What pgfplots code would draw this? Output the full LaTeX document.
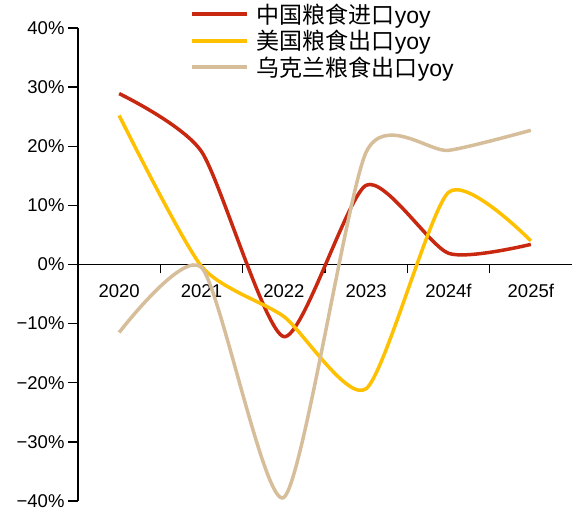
\documentclass[border=0pt]{standalone}
\usepackage{pgfplots}
\pgfplotsset{compat=1.18}
\usepackage{fontspec}
\setmainfont{Liberation Sans}
\newfontfamily\cjk{Noto Sans CJK SC}
\definecolor{cred}{HTML}{C8280F}
\definecolor{cyel}{HTML}{FFC000}
\definecolor{ctan}{HTML}{D6BE9A}
\begin{document}
\begin{tikzpicture}
\begin{axis}[
  scale only axis, width=494pt, height=473pt,
  xmin=-0.5, xmax=5.5, ymin=-40, ymax=40,
  axis x line=middle, axis y line=left,
  every inner x axis line/.append style={-},
  every outer y axis line/.append style={-},
  axis line style={line width=1.4pt, black},
  tick style={line width=1.4pt, black},
  tick align=outside,
  major tick length=10pt,
  minor tick length=9pt,
  xtick={0,1,2,3,4,5},
  xticklabels={2020,2021,2022,2023,2024f,2025f},
  minor xtick={0.5,1.5,2.5,3.5,4.5},
  every major x tick/.style={draw=none},
  xticklabel style={yshift=-6pt, text height=13pt},
  ytick={-40,-30,-20,-10,0,10,20,30,40},
  yticklabels={−40\%,−30\%,−20\%,−10\%,0\%,10\%,20\%,30\%,40\%},
  tick label style={font=\fontsize{18.5}{22}\selectfont},
  legend style={at={(axis description cs:0.22,1.06)}, anchor=north west, draw=none, fill=none,
    font=\fontsize{23}{25}\selectfont, row sep=1.5pt, column sep=6pt},
  legend cell align=left,
  legend image code/.code={\draw[#1, line width=4pt] (0pt,0pt) -- (55pt,0pt);},
]
\addplot[color=cred, line width=3.5pt, smooth, tension=0.4] coordinates {(0,28.9) (1,19.1) (2,-12.2) (3,13.4) (4,1.9) (5,3.4)};
\addlegendentry{{\cjk 中国粮食进口}yoy}
\addplot[color=cyel, line width=3.5pt, smooth, tension=0.4] coordinates {(0,25.2) (1,-0.3) (2,-8.8) (3,-21) (4,12.2) (5,4.0)};
\addlegendentry{{\cjk 美国粮食出口}yoy}
\addplot[color=ctan, line width=3.5pt, smooth, tension=0.4] coordinates {(0,-11.5) (1,-0.5) (2,-39.4) (3,19.0) (4,19.3) (5,22.7)};
\addlegendentry{{\cjk 乌克兰粮食出口}yoy}
\end{axis}
\pgfresetboundingbox
\path (-78pt,-13pt) rectangle (496pt,501pt);
\end{tikzpicture}
\end{document}
